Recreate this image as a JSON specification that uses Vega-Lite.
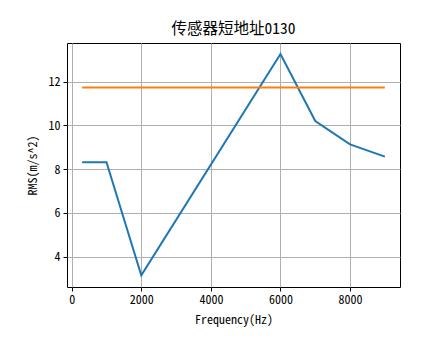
{
  "$schema": "https://vega.github.io/schema/vega-lite/v6.json",
  "width": 333,
  "height": 244,
  "autosize": "none",
  "padding": {"left": 67, "top": 43, "right": 44, "bottom": 72},
  "background": "white",
  "title": {"text": "传感器短地址0130", "font": "Noto Sans Mono CJK SC, Noto Sans CJK SC", "fontSize": 15.5, "fontWeight": "normal", "color": "black", "offset": 6},
  "config": {
    "view": {"stroke": "black", "strokeWidth": 1},
    "axis": {
      "labelFont": "Noto Sans Mono CJK SC, Noto Sans CJK SC", "labelFontSize": 12, "labelColor": "black",
      "titleFont": "Noto Sans Mono CJK SC, Noto Sans CJK SC", "titleFontSize": 12, "titleFontWeight": "normal", "titleColor": "black",
      "grid": true, "gridColor": "#b0b0b0", "gridWidth": 1,
      "domain": false, "tickColor": "black", "tickSize": 4, "tickWidth": 1, "labelPadding": 3
    }
  },
  "data": {"values": [
    {"f": 300, "v": 8.32, "s": "rms"},
    {"f": 1000, "v": 8.32, "s": "rms"},
    {"f": 2000, "v": 3.15, "s": "rms"},
    {"f": 6000, "v": 13.26, "s": "rms"},
    {"f": 7000, "v": 10.2, "s": "rms"},
    {"f": 8000, "v": 9.13, "s": "rms"},
    {"f": 9000, "v": 8.57, "s": "rms"},
    {"f": 300, "v": 11.73, "s": "limit"},
    {"f": 9000, "v": 11.73, "s": "limit"}
  ]},
  "mark": {"type": "line", "strokeWidth": 2},
  "encoding": {
    "x": {"field": "f", "type": "quantitative", "scale": {"domain": [-135, 9435], "nice": false, "zero": false},
          "axis": {"values": [0, 2000, 4000, 6000, 8000], "title": "Frequency(Hz)", "titlePadding": 9, "format": "d"}},
    "y": {"field": "v", "type": "quantitative", "scale": {"domain": [2.62, 13.76], "nice": false, "zero": false},
          "axis": {"values": [4, 6, 8, 10, 12], "title": "RMS(m/s^2)", "titlePadding": 8}},
    "color": {"field": "s", "type": "nominal", "scale": {"domain": ["rms", "limit"], "range": ["#1f77b4", "#ff7f0e"]}, "legend": null}
  }
}
